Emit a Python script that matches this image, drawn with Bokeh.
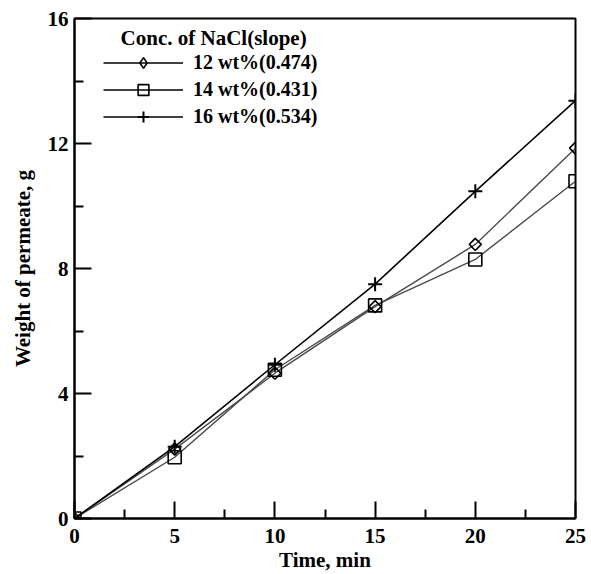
import numpy as np
from bokeh.plotting import figure
from bokeh.models import FixedTicker, Legend, LegendItem, Label, Range1d, ColumnDataSource
from bokeh.embed import file_html
from bokeh.resources import INLINE

# ---- data ----
time_min = [0, 5, 10, 15, 20, 25]
w_12 = [0.0, 2.22, 4.65, 6.78, 8.77, 11.85]
w_14 = [0.0, 1.96, 4.76, 6.82, 8.29, 10.79]
w_16 = [0.0, 2.30, 4.92, 7.50, 10.47, 13.37]
labels = ["12 wt%(0.474)", "14 wt%(0.431)", "16 wt%(0.534)"]
legend_title = "Conc. of NaCl(slope)"
x_ticks = [0, 5, 10, 15, 20, 25]
x_minor = [2.5, 7.5, 12.5, 17.5, 22.5]
y_ticks = [0, 4, 8, 12, 16]
y_minor = [2, 6, 10, 14]

FONT = "Liberation Serif"

p = figure(width=591, height=574, x_range=Range1d(0, 25), y_range=Range1d(0, 16),
           output_backend="svg", toolbar_location=None,
           min_border_left=74, min_border_right=16, min_border_top=18, min_border_bottom=55,
           background_fill_color="white", border_fill_color="white")

p.xgrid.visible = False
p.ygrid.visible = False
p.outline_line_color = "black"
p.outline_line_width = 2

p.xaxis.ticker = FixedTicker(ticks=x_ticks, minor_ticks=x_minor)
p.yaxis.ticker = FixedTicker(ticks=y_ticks, minor_ticks=y_minor)
for ax in (p.xaxis, p.yaxis):
    ax.axis_line_width = 2
    ax.axis_line_color = "black"
    ax.major_tick_line_width = 2
    ax.minor_tick_line_width = 2
    ax.major_tick_in = 17
    ax.major_tick_out = 0
    ax.minor_tick_in = 9
    ax.minor_tick_out = 0
    ax.major_label_text_font = FONT
    ax.major_label_text_font_style = "bold"
    ax.major_label_text_font_size = "21px"
    ax.major_label_text_color = "black"
    ax.axis_label_text_font = FONT
    ax.axis_label_text_font_style = "bold"
    ax.axis_label_text_font_size = "21px"
    ax.axis_label_text_color = "black"

p.xaxis.axis_label = "Time, min"
p.yaxis.axis_label = "Weight of permeate, g"
p.xaxis.major_label_standoff = 10
p.yaxis.major_label_standoff = 6
p.xaxis.axis_label_standoff = 2
p.yaxis.axis_label_standoff = 10

gray = "#4a4a4a"
# data series
p.line(time_min, w_12, line_color=gray, line_width=1.4)
p.line(time_min, w_14, line_color=gray, line_width=1.4)
p.line(time_min, w_16, line_color="black", line_width=1.6)
p.scatter(time_min, w_12, marker="square", angle=np.pi / 4, size=8.5,
          line_color="black", line_width=1.6, fill_color=None)
p.scatter(time_min, w_14, marker="square", size=13,
          line_color="black", line_width=1.6, fill_color=None)
p.scatter(time_min, w_16, marker="cross", size=14,
          line_color="black", line_width=2)

# legend key glyphs (sources hold a single NaN so nothing is drawn in the plot)
items = []
for lab, mk in zip(labels, ["diamond", "square", "cross"]):
    src = ColumnDataSource(data=dict(x=[np.nan], y=[np.nan]))
    lr = p.line("x", "y", source=src, line_color="black", line_width=1.4)
    sr = p.scatter("x", "y", source=src, marker=mk, size=12, line_color="black",
                   line_width=2 if mk == "cross" else 1.6, fill_color=None)
    items.append(LegendItem(label=lab, renderers=[lr, sr]))

legend = Legend(items=items, location=(29, 388), margin=0, padding=0,
                glyph_width=80, glyph_height=27, label_height=27, spacing=0,
                label_standoff=10, label_text_font=FONT, label_text_font_style="bold",
                label_text_font_size="20px", label_text_color="black",
                background_fill_alpha=0, border_line_color=None)
p.add_layout(legend)

p.add_layout(Label(x=2.3, y=15.37, text=legend_title, text_font=FONT,
                   text_font_style="bold", text_font_size="21px",
                   text_baseline="middle", text_color="black"))

open("out.html", "w").write(file_html(p, INLINE))
